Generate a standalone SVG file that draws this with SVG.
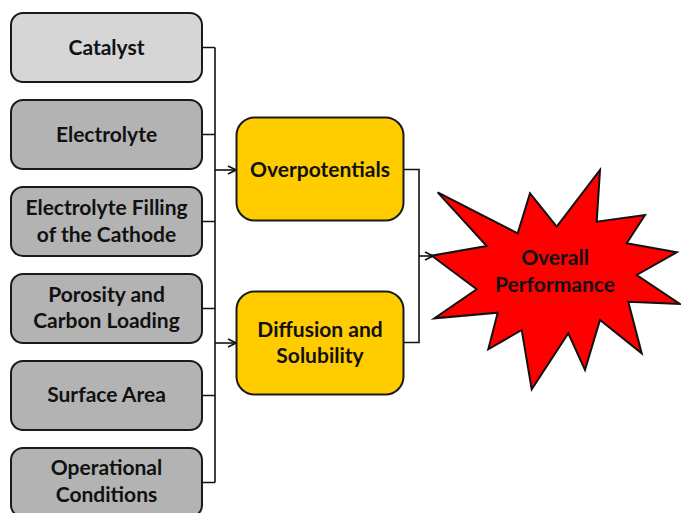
<svg xmlns="http://www.w3.org/2000/svg" width="681" height="513" viewBox="0 0 681 513">
<defs>
<style>
.box{stroke:#1a1a1a;stroke-width:2}
.g1{fill:#d6d6d6}
.g2{fill:#b3b3b3}
.y{fill:#ffcc00}
.t{font-family:Lato,"Liberation Sans",sans-serif;font-weight:bold;font-size:21px;fill:#111;text-anchor:middle}
.c{fill:none;stroke:#111;stroke-width:1.6}
</style>
<marker id="ah" viewBox="0 0 10 10" refX="9" refY="5" markerWidth="10" markerHeight="10" markerUnits="userSpaceOnUse" orient="auto">
<path d="M1,1 L9,5 L1,9" fill="none" stroke="#111" stroke-width="1.6"/>
</marker>
</defs>
<rect width="681" height="513" fill="#fff"/>
<g id="connectors">
<path class="c" d="M202,47.5 H215 M202,134.5 H215 M202,221.5 H215 M202,308.5 H215 M202,395.5 H215 M202,482.5 H215 M215,47.5 V482.5"/>
<path class="c" d="M215,170 H236" marker-end="url(#ah)"/>
<path class="c" d="M215,343 H236" marker-end="url(#ah)"/>
<path class="c" d="M403,169.5 H419 V342.5 H403"/>
<path class="c" d="M419,256 H433" marker-end="url(#ah)"/>
</g>
<g id="catalyst"><rect class="box g1" x="11" y="13" width="191" height="69" rx="12"/><text class="t" x="106.5" y="55">Catalyst</text></g>
<g id="electrolyte"><rect class="box g2" x="11" y="100" width="191" height="69" rx="12"/><text class="t" x="106.5" y="142">Electrolyte</text></g>
<g id="filling"><rect class="box g2" x="11" y="187" width="191" height="69" rx="12"/><text class="t" x="106.5" y="215">Electrolyte Filling</text><text class="t" x="106.5" y="242">of the Cathode</text></g>
<g id="porosity"><rect class="box g2" x="11" y="274" width="191" height="69" rx="12"/><text class="t" x="106.5" y="302">Porosity and</text><text class="t" x="106.5" y="328">Carbon Loading</text></g>
<g id="surface"><rect class="box g2" x="11" y="361" width="191" height="69" rx="12"/><text class="t" x="106.5" y="402">Surface Area</text></g>
<g id="operational"><rect class="box g2" x="11" y="448" width="191" height="69" rx="12"/><text class="t" x="106.5" y="475">Operational</text><text class="t" x="106.5" y="502">Conditions</text></g>
<g id="overpotentials"><rect class="box y" x="236.5" y="117.5" width="167" height="103" rx="18"/><text class="t" x="320" y="177">Overpotentials</text></g>
<g id="diffusion"><rect class="box y" x="236.5" y="291.5" width="167" height="103" rx="18"/><text class="t" x="320" y="337">Diffusion and</text><text class="t" x="320" y="363">Solubility</text></g>
<g id="performance">
<polygon points="437.7,192.3 517.7,233.3 530,193.3 556.7,226.7 600,170 596.7,221.7 645,215 626.7,243.3 676.7,252.3 636.7,275 680,304 628.3,301.7 641.7,353.3 600,320 585,370 568.3,333.3 531.7,389.3 521.7,330 488.3,349.3 497.7,312.7 434.3,318.3 476.7,289.3 431.7,255.7 486.7,246" fill="#ff0000" stroke="#111" stroke-width="2" stroke-linejoin="miter"/>
<text class="t" x="555" y="265">Overall</text><text class="t" x="555" y="292">Performance</text>
</g>
</svg>
